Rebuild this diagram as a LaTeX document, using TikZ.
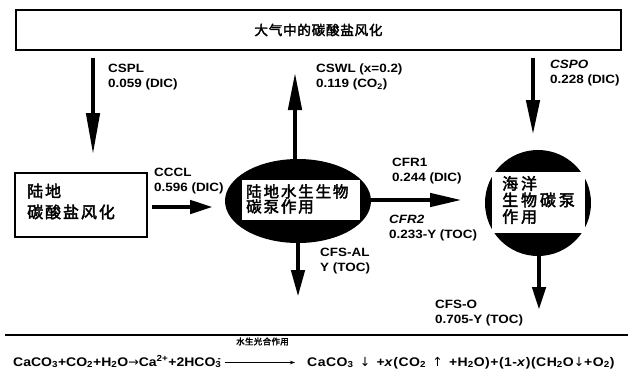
\documentclass[tikz,border=0pt]{standalone}
\usepackage{fontspec}
\setmainfont{Liberation Sans}[FakeStretch=1.12]
\newfontfamily\cjk[FakeBold=2.5]{Noto Sans CJK SC}
\newfontfamily\sym{DejaVu Sans}
\usetikzlibrary{arrows.meta,shapes.geometric}
\begin{document}
\begin{tikzpicture}[x=1pt,y=-1pt,
  boxline/.style={draw, line width=#1, inner sep=0pt},
  boxline/.default=2pt,
  bigarrow/.style={line width=4.5pt, -{Triangle[length=#1,width=13pt]}},
  bigarrow/.default=30pt,
  lab/.style={font=\fontsize{12}{14.5}\selectfont\bfseries, align=left, anchor=north west, inner sep=0pt},
  cn/.style={align=left, inner sep=0pt, anchor=west},
  eq/.style={font=\fontsize{12.5}{14}\selectfont\bfseries, inner sep=0pt, anchor=base west},
  thinarrow/.style={line width=0.6pt, -{Stealth[length=5pt,width=3.5pt]}}]
\useasboundingbox (0,0) rectangle (634,375);

% top box
\node[boxline=1.8pt, minimum width=605pt, minimum height=40pt,
  font=\cjk\fontsize{13.5}{16}\selectfont\addfontfeature{LetterSpace=6}] (atm) at (318.5,30) {大气中的碳酸盐风化};

% land box
\node[boxline=2.6pt, minimum width=132pt, minimum height=64pt] (land) at (81,205) {};
\node[cn, font=\cjk\fontsize{16}{21}\selectfont\addfontfeature{LetterSpace=12}] (landtxt) at (27,201.5) {陆地\\碳酸盐风化};

% lake ellipse
\node[ellipse, fill=black, minimum width=146pt, minimum height=84pt, inner sep=0pt] (lake) at (298,201) {};
\node[fill=white, minimum width=118pt, minimum height=40pt, inner sep=0pt] (lakebox) at (301,199.5) {};
\node[cn, font=\cjk\fontsize{15.5}{15}\selectfont\addfontfeature{LetterSpace=12}] (laketxt) at (246,199) {陆地水生生物\\碳泵作用};

% ocean circle
\node[circle, fill=black, minimum size=106pt, inner sep=0pt] (ocean) at (538,203) {};
\node[fill=white, minimum width=93pt, minimum height=61pt, inner sep=0pt] (oceanbox) at (538.5,202.5) {};
\node[cn, font=\cjk\fontsize{16}{16.5}\selectfont\addfontfeature{LetterSpace=18}] (oceantxt) at (502,200) {海洋\\生物碳泵\\作用};

% arrows
\coordinate (csplS) at (93,58);   \coordinate (csplE) at (93,155);
\coordinate (cswlS) at (295,162); \coordinate (cswlE) at (295,72);
\coordinate (cspoS) at (533,58);  \coordinate (cspoE) at (533,135);
\coordinate (ccclS) at (152,207); \coordinate (ccclE) at (213,207);
\coordinate (cfrS) at (366,200);  \coordinate (cfrE) at (462,200);
\coordinate (cfsalS) at (298,240); \coordinate (cfsalE) at (298,297);
\coordinate (cfsoS) at (539,252); \coordinate (cfsoE) at (539,310);
\draw[bigarrow=42pt] (csplS) -- (csplE);
\draw[bigarrow=38pt] (cswlS) -- (cswlE);
\draw[bigarrow=35pt] (cspoS) -- (cspoE);
\draw[bigarrow=23pt] (ccclS) -- (ccclE);
\draw[bigarrow=32pt] (cfrS) -- (cfrE);
\draw[bigarrow=27pt] (cfsalS) -- (cfsalE);
\draw[bigarrow=23pt] (cfsoS) -- (cfsoE);

% labels
\node[lab] (cspl) at (108,64) {CSPL\\0.059 (DIC)};
\node[lab] (cswl) at (316,64) {CSWL (x=0.2)\\0.119 (CO\textsubscript{2})};
\node[lab] (cspo) at (550,60) {\textit{CSPO}\\0.228 (DIC)};
\node[lab] (cccl) at (154,168) {CCCL\\0.596 (DIC)};
\node[lab] (cfr1) at (392,158) {CFR1\\0.244 (DIC)};
\node[lab] (cfr2) at (389,215) {\textit{CFR2}\\0.233-Y (TOC)};
\node[lab] (cfsal) at (320,248) {CFS-AL\\Y (TOC)};
\node[lab] (cfso) at (435,300) {CFS-O\\0.705-Y (TOC)};

% separator
\coordinate (sepL) at (5,335); \coordinate (sepR) at (628,335);
\draw[line width=2pt] (sepL) -- (sepR);

% equation
\node[eq] (eqL) at (13,366) {CaCO\textsubscript{3}+CO\textsubscript{2}+H\textsubscript{2}O{\sym\mdseries →}Ca\textsuperscript{2+}+2HCO\textsubscript{3}\llap{\textsuperscript{-}}};
\node[eq, font=\fontsize{12.5}{14}\selectfont\bfseries\addfontfeature{LetterSpace=4}] (eqR) at (307,366) {CaCO\textsubscript{3}\enspace{\sym\mdseries ↓}\enspace+\textit{x}(CO\textsubscript{2}\enspace{\sym\mdseries ↑}\enspace+H\textsubscript{2}O)+(1-\textit{x})(CH\textsubscript{2}O{\sym\mdseries ↓}+O\textsubscript{2})};
\draw[thinarrow] ([xshift=3pt,yshift=3.5pt]eqL.base east) -- ([xshift=-12pt,yshift=3.5pt]eqR.base west);
\node[font=\cjk\fontsize{8.5}{9}\selectfont\addfontfeature{LetterSpace=4}, inner sep=0pt] (photo) at (262.5,341.5) {水生光合作用};
\end{tikzpicture}
\end{document}
